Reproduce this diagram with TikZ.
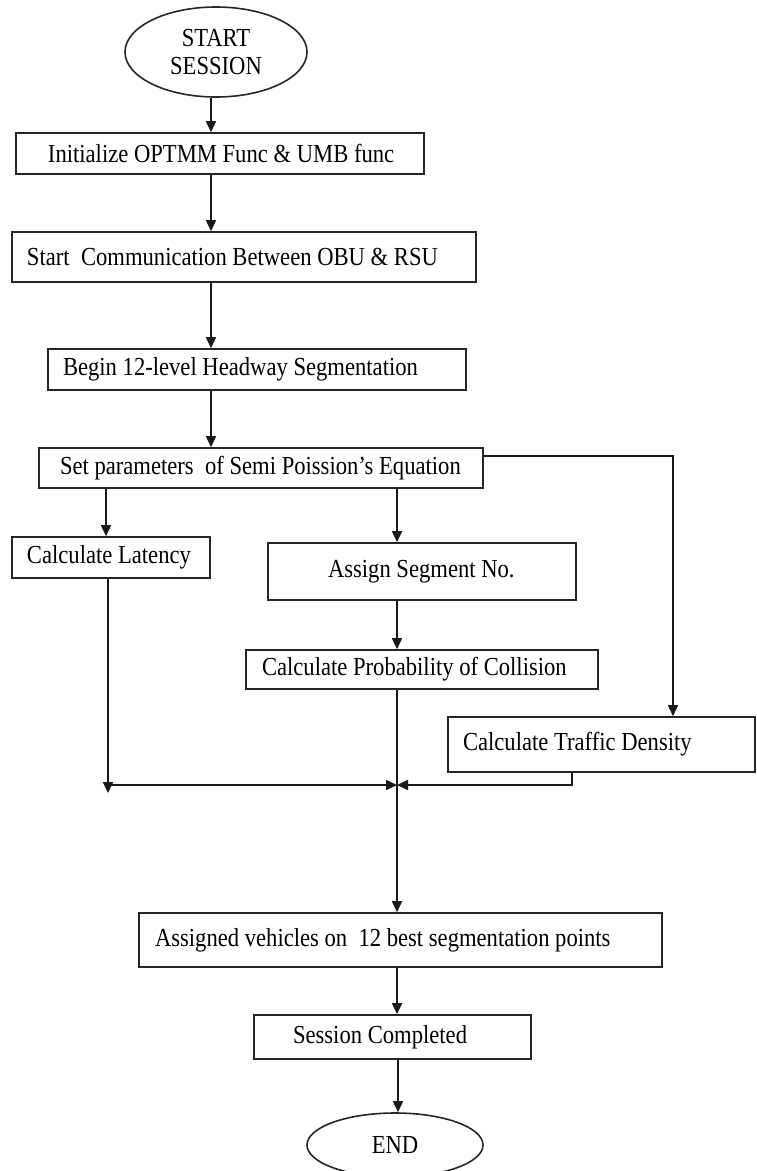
\documentclass[tikz,border=0pt]{standalone}
\usepackage{fontspec}
\setmainfont{Liberation Serif}[FakeStretch=0.87]
\usetikzlibrary{shapes.geometric,arrows.meta}
\newcommand\lbx[3]{\makebox[#1pt][l]{\hspace*{#2pt}#3}}
\begin{document}
\begin{tikzpicture}[x=1pt,y=-1pt,
  line width=1.6pt,
  font=\fontsize{26}{28}\selectfont,
  boxst/.style 2 args={draw=black!85, rectangle, inner sep=0pt, minimum width=#1pt, minimum height=#2pt},
  ell/.style={draw=black!85, ellipse, inner sep=0pt, align=center},
  arr/.style={draw=black!90, -{Triangle[length=11pt,width=10pt]}},
  ln/.style={draw=black!90}]
\useasboundingbox (0,0) rectangle (757,1171);

% nodes
\node[ell, minimum width=182pt, minimum height=90pt] (start) at (216,52) {START\\SESSION};
\node[boxst={408}{41}] (b1) at (220,153.5) {\lbx{408}{32}{Initialize OPTMM Func \& UMB func}};
\node[boxst={464}{50}] (b2) at (244,257) {\lbx{464}{15}{Start\ \ Communication Between OBU \& RSU}};
\node[boxst={418}{41}] (b3) at (257,369.5) {\lbx{418}{15}{Begin 12-level Headway Segmentation}};
\node[boxst={444}{40}] (b4) at (261,468) {\lbx{444}{21}{Set parameters\ \ of Semi Poission’s Equation}};
\node[boxst={198}{41}] (lat) at (111,557.5) {\lbx{198}{15}{Calculate Latency}};
\node[boxst={308}{57}] (assign) at (422,571.5) {\lbx{308}{60}{\raisebox{5pt}{Assign Segment No.}}};
\node[boxst={352}{39}] (coll) at (422,669.5) {\lbx{352}{16}{Calculate Probability of Collision}};
\node[boxst={307}{55}] (traffic) at (601.5,744.5) {\lbx{307}{15}{\raisebox{5pt}{Calculate Traffic Density}}};
\node[boxst={523}{54}] (assigned) at (400.5,940) {\lbx{523}{16}{\raisebox{4pt}{Assigned vehicles on\ \ 12 best segmentation points}}};
\node[boxst={277}{44}] (sess) at (392.5,1037) {\lbx{277}{39}{Session Completed}};
\node[ell, minimum width=176pt, minimum height=64pt] (end) at (395,1145) {END};

% helper coordinates
\coordinate (xm) at (211,0);
\coordinate (xl) at (106,0);
\coordinate (xc) at (397,0);
\coordinate (xe) at (398,0);
\coordinate (xr) at (673,456);
\coordinate (m) at (397,785);
\coordinate (lm) at (108,785);
\coordinate (ld) at (108,793);
\coordinate (tb) at (572,785);

% connectors
\draw[arr] (xm |- start.south) -- (xm |- b1.north);
\draw[arr] (xm |- b1.south) -- (xm |- b2.north);
\draw[arr] (xm |- b2.south) -- (xm |- b3.north);
\draw[arr] (xm |- b3.south) -- (xm |- b4.north);
\draw[arr] (xl |- b4.south) -- (xl |- lat.north);
\draw[arr] (xc |- b4.south) -- (xc |- assign.north);
\draw[arr] (b4.east |- xr) -- (xr) -- (xr |- traffic.north);
\draw[arr] (xc |- assign.south) -- (xc |- coll.north);
\draw[arr] (lat.south -| ld) -- (ld);
\draw[arr] (lm) -- (m);
\draw[arr] (traffic.south -| tb) -- (tb) -- (m);
\draw[arr] (xc |- coll.south) -- (xc |- assigned.north);
\draw[arr] (xc |- assigned.south) -- (xc |- sess.north);
\draw[arr] (xe |- sess.south) -- (xe |- end.north);
\end{tikzpicture}
\end{document}
